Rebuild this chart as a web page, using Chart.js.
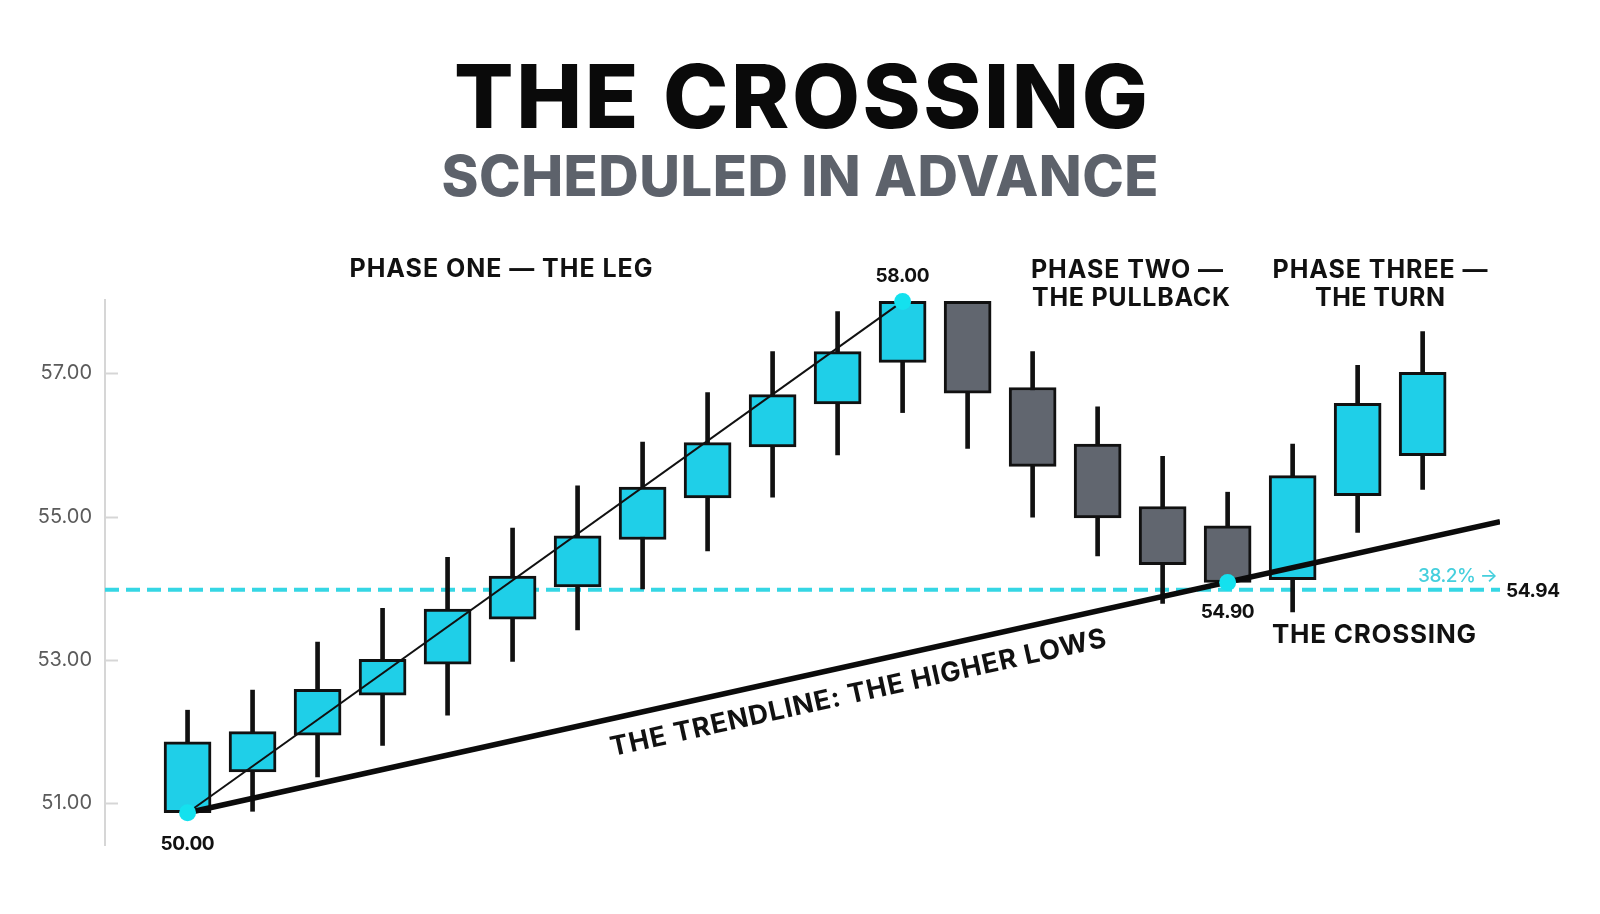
<!DOCTYPE html>
<html>
<head>
<meta charset="utf-8">
<title>The Crossing</title>
<script src="https://cdn.jsdelivr.net/npm/chart.js@4.4.1/dist/chart.umd.min.js"></script>
<style>
  html, body { margin: 0; padding: 0; background: #fff; }
  #wrap { width: 1600px; height: 914px; position: relative; }
</style>
</head>
<body>
<div id="wrap"><canvas id="chart"></canvas></div>
<script>
// Candles (one per session, index 0..19)
const opens  = [50.87, 51.44, 51.95, 52.51, 52.94, 53.57, 54.02, 54.68, 55.26, 55.97, 56.57, 57.15, 58.00, 56.80, 56.01, 55.14, 54.87, 54.12, 55.29, 55.85];
const closes = [51.86, 52.00, 52.59, 53.01, 53.71, 54.17, 54.73, 55.41, 56.03, 56.70, 57.30, 58.00, 56.72, 55.70, 54.98, 54.33, 54.08, 55.57, 56.58, 57.01];
const highs  = [52.30, 52.58, 53.25, 53.72, 54.43, 54.84, 55.43, 56.04, 56.73, 57.30, 57.86, 58.00, 58.00, 57.30, 56.53, 55.84, 55.34, 56.01, 57.11, 57.58];
const lows   = [50.87, 50.89, 51.37, 51.81, 52.23, 52.98, 53.42, 53.99, 54.52, 55.27, 55.86, 56.45, 55.95, 54.99, 54.45, 53.79, 54.08, 53.67, 54.78, 55.38];

const yTicks = [51, 53, 55, 57];

// the leg: swing low -> swing high
const legX = [0, 11];
const legY = [50.87, 58.00];

// trendline through the higher lows
const trendX = [0, 20.19];
const trendY = [50.87, 54.93];

// 38.2% retracement level
const retraceLevel = 53.98;

// marked pivots and their printed labels
const pivotX = [0, 11, 16];
const pivotY = [50.87, 58.00, 54.08];
const pivotLabels = ['50.00', '58.00', '54.90'];

const X_MIN = -1.27, X_MAX = 20.19;
const FONT = 'Inter, "Noto Sans", sans-serif';
const CYAN = '#1fcfe8';
const GREY = '#61666f';
const INK = '#111111';

function fitText(ctx, s, x, base, size, weight, color, w, align) {
  ctx.font = weight + ' ' + size + 'px ' + FONT;
  ctx.letterSpacing = '0px';
  const ls = (w - ctx.measureText(s).width) / Math.max(1, s.length - 1);
  ctx.letterSpacing = ls.toFixed(2) + 'px';
  ctx.fillStyle = color;
  ctx.textAlign = 'left';
  ctx.textBaseline = 'alphabetic';
  const left = align === 'left' ? x : align === 'right' ? x - w : x - w / 2;
  ctx.fillText(s, left, base);
  ctx.letterSpacing = '0px';
}

const annotate = {
  id: 'annotate',
  beforeDatasetsDraw(chart) {
    const { ctx, chartArea, scales: { y } } = chart;
    ctx.save();
    ctx.strokeStyle = '#d6d6d6';
    ctx.lineWidth = 2;
    yTicks.forEach(v => {
      const py = Math.round(y.getPixelForValue(v)) + 0.5;
      ctx.beginPath();
      ctx.moveTo(chartArea.left, py);
      ctx.lineTo(chartArea.left + 13, py);
      ctx.stroke();
    });
    ctx.restore();
  },
  afterDraw(chart) {
    const { ctx, chartArea, scales: { x, y } } = chart;
    ctx.save();

    // headline
    fitText(ctx, 'THE CROSSING', 801, 128, 88, 800, '#0a0a0a', 694, 'center');
    fitText(ctx, 'SCHEDULED IN ADVANCE', 800, 196, 56, 800, '#5d626b', 717, 'center');

    // phase captions
    fitText(ctx, 'PHASE ONE \u2014 THE LEG', 501, 277, 25, 700, INK, 303, 'center');
    fitText(ctx, 'PHASE TWO \u2014', 1127, 278, 25, 700, INK, 192, 'center');
    fitText(ctx, 'THE PULLBACK', 1131, 306, 25, 700, INK, 198, 'center');
    fitText(ctx, 'PHASE THREE \u2014', 1380, 278, 25, 700, INK, 215, 'center');
    fitText(ctx, 'THE TURN', 1380, 306, 25, 700, INK, 130, 'center');

    // pivot price labels
    const offs = [37, -19, 35];
    pivotX.forEach((v, i) => {
      const px = x.getPixelForValue(v);
      const py = y.getPixelForValue(pivotY[i]) + offs[i];
      fitText(ctx, pivotLabels[i], px, py, 19, 700, INK, 54, 'center');
    });

    // retracement labels at the end of the dashed line
    const ly = y.getPixelForValue(retraceLevel);
    fitText(ctx, '38.2% \u2192', chartArea.right - 2, ly - 8, 19, 500, '#45cfdd', 80, 'right');
    fitText(ctx, '54.94', chartArea.right + 6, ly + 7, 19, 700, INK, 54, 'left');

    fitText(ctx, 'THE CROSSING', 1374, 643, 26, 700, INK, 204, 'center');

    // trendline caption, rotated along the line
    const x0 = x.getPixelForValue(trendX[0]), y0 = y.getPixelForValue(trendY[0]);
    const x1 = x.getPixelForValue(trendX[1]), y1 = y.getPixelForValue(trendY[1]);
    const ang = Math.atan2(y1 - y0, x1 - x0);
    const cx = 852;
    const cy = y0 + (y1 - y0) * (cx - x0) / (x1 - x0);
    ctx.translate(cx, cy);
    ctx.rotate(ang);
    fitText(ctx, 'THE TRENDLINE: THE HIGHER LOWS', 0, 37, 27, 700, INK, 507, 'center');

    ctx.restore();
  }
};

const idx = opens.map((_, i) => i);

new Chart(document.getElementById('chart'), {
  type: 'bar',
  data: {
    datasets: [
      {
        type: 'line',
        data: [{ x: X_MIN, y: retraceLevel }, { x: X_MAX, y: retraceLevel }],
        borderColor: '#35d6e4',
        borderWidth: 4,
        borderDash: [14, 7],
        pointRadius: 0,
        order: 6
      },
      {
        type: 'bar',
        data: idx.map(i => ({ x: i, y: [lows[i], highs[i]] })),
        backgroundColor: INK,
        barThickness: 4,
        grouped: false,
        order: 5
      },
      {
        type: 'bar',
        data: idx.map(i => ({ x: i, y: [opens[i], closes[i]] })),
        backgroundColor: idx.map(i => closes[i] >= opens[i] ? CYAN : GREY),
        borderColor: INK,
        borderWidth: 3,
        borderSkipped: false,
        barThickness: 47,
        grouped: false,
        order: 4
      },
      {
        type: 'line',
        data: trendX.map((v, i) => ({ x: v, y: trendY[i] })),
        borderColor: '#0b0b0b',
        borderWidth: 5.5,
        pointRadius: 0,
        order: 3
      },
      {
        type: 'line',
        data: legX.map((v, i) => ({ x: v, y: legY[i] })),
        borderColor: INK,
        borderWidth: 2,
        pointRadius: 0,
        order: 2
      },
      {
        type: 'scatter',
        data: pivotX.map((v, i) => ({ x: v, y: pivotY[i] })),
        pointRadius: 8.5,
        pointBackgroundColor: '#14e1ee',
        pointBorderWidth: 0,
        clip: false,
        order: 1
      }
    ]
  },
  options: {
    responsive: true,
    maintainAspectRatio: false,
    animation: false,
    events: [],
    layout: { padding: { top: 300, right: 100, bottom: 69, left: 0 } },
    plugins: {
      legend: { display: false },
      tooltip: { enabled: false }
    },
    scales: {
      x: {
        type: 'linear',
        min: X_MIN,
        max: X_MAX,
        offset: false,
        display: false
      },
      y: {
        min: 50.42,
        max: 58.02,
        afterBuildTicks: s => { s.ticks = yTicks.map(v => ({ value: v })); },
        afterFit: s => { s.width = 105; },
        ticks: {
          callback: v => Number(v).toFixed(2),
          color: '#5b5b5b',
          font: { family: FONT, size: 20 },
          padding: 13
        },
        grid: { display: false, drawTicks: false },
        border: { display: true, color: '#d6d6d6', width: 2 }
      }
    }
  },
  plugins: [annotate]
});
</script>
</body>
</html>
